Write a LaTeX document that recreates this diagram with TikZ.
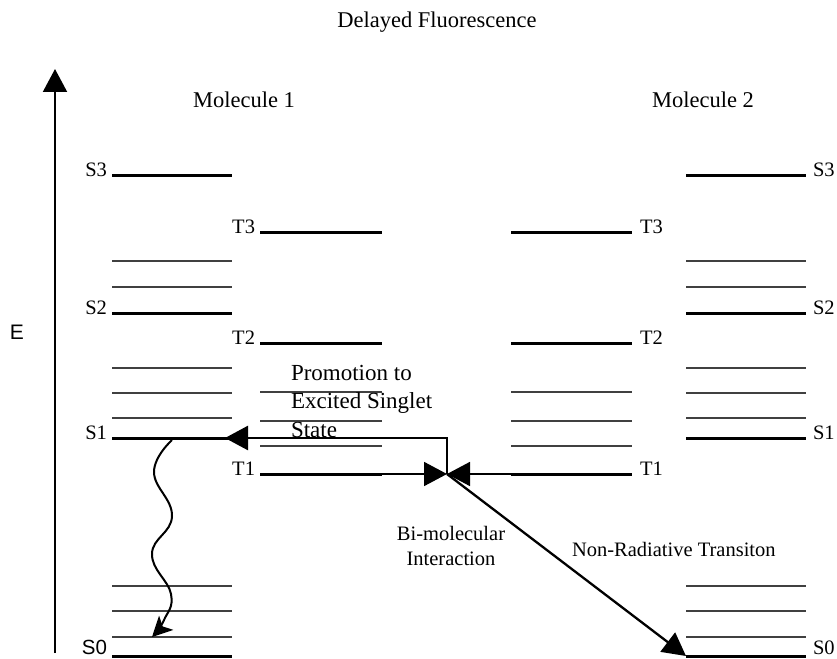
\documentclass[tikz,border=0pt]{standalone}
\usepackage{fontspec}
\setmainfont{Liberation Serif}
\setsansfont{Liberation Sans}
\usetikzlibrary{arrows.meta}

\begin{document}
\begin{tikzpicture}[x=1pt, y=-1pt,
    every node/.style={inner sep=0pt, outer sep=0pt, font=\fontsize{20.5}{28.5}\selectfont},
    level/.style={line width=3pt},
    sublevel/.style={line width=1.1pt, black!75},
    bigtip/.style={-{Triangle[length=23pt,width=24pt]}}]
    \useasboundingbox (0,0) rectangle (837,658);

    % energy axis
    \coordinate (axisbot) at (55,653);
    \coordinate (axistop) at (55,69);
    \draw[line width=2pt, bigtip] (axisbot) -- (axistop);
    \node[font=\fontsize{21}{24}\sffamily] (energy) at (17,332) {E};

    \node[anchor=base, font=\fontsize{22.5}{26}\selectfont] (title) at (437,28) {Delayed Fluorescence};
    \node[anchor=base, font=\fontsize{22.5}{26}\selectfont] (mol1) at (244,108) {Molecule 1};
    \node[anchor=base, font=\fontsize{22.5}{26}\selectfont] (mol2) at (703,108) {Molecule 2};

    % singlet levels
    \foreach \y/\lab in {175/S3, 313/S2, 438/S1} {
        \draw[level] (112,\y) -- (232,\y);
        \draw[level] (686,\y) -- (806,\y);
        \node[anchor=base east] (m1\lab) at (107,\y+1) {\lab};
        \node[anchor=base west] (m2\lab) at (813,\y+1) {\lab};
    }
    \draw[level] (112,656) -- (232,656);
    \draw[level] (686,656) -- (806,656);
    \node[anchor=base east, font=\fontsize{20.5}{24}\sffamily] (m1S0) at (107,654.5) {S0};
    \node[anchor=base west] (m2S0) at (813,654.5) {S0};
    \foreach \y in {261, 287, 368, 393, 418, 586, 611, 637} {
        \draw[sublevel] (112,\y) -- (232,\y);
        \draw[sublevel] (686,\y) -- (806,\y);
    }

    % triplet levels
    \foreach \y/\lab in {232/T3, 343/T2, 474/T1} {
        \draw[level] (260,\y) -- (382,\y);
        \draw[level] (511,\y) -- (632,\y);
        \node[anchor=base east] (m1\lab) at (255,\y+1) {\lab};
        \node[anchor=base west] (m2\lab) at (640,\y+1) {\lab};
    }
    \foreach \y in {392, 421, 446} {
        \draw[sublevel] (260,\y) -- (382,\y);
        \draw[sublevel] (511,\y) -- (632,\y);
    }

    % transitions
    \coordinate (meet) at (447,474);
    \coordinate (t1left) at (382,474);
    \coordinate (t1right) at (511,474);
    \coordinate (s1tip) at (225,438);
    \coordinate (s0tip) at (686,656);
    \draw[line width=1.7pt, bigtip] (t1left) -- (meet);
    \draw[line width=1.7pt, bigtip] (t1right) -- (meet);
    \draw[line width=2.6pt, bigtip] (meet) |- (s1tip);
    \draw[line width=2.3pt, bigtip] (meet) -- (s0tip);

    \coordinate (wavetop) at (172,440);
    \coordinate (wavebot) at (152,637);
    \draw[line width=2pt, -{Stealth[length=20pt,width=20pt,inset=5pt]}] plot[smooth, tension=0.75]
        coordinates {(wavetop) (154,472) (172,516) (152,554) (171,594) (164,620) (wavebot)};

    \node[anchor=base west, align=left, font=\fontsize{23}{28.5}\selectfont] (promo) at (291,437) {Promotion to\\Excited Singlet\\State};
    \node[anchor=base, align=center, font=\fontsize{20.5}{25}\selectfont] (bimol) at (451,565) {Bi-molecular\\Interaction};
    \node[anchor=base west] (nonrad) at (572,556) {Non-Radiative Transiton};
\end{tikzpicture}
\end{document}
